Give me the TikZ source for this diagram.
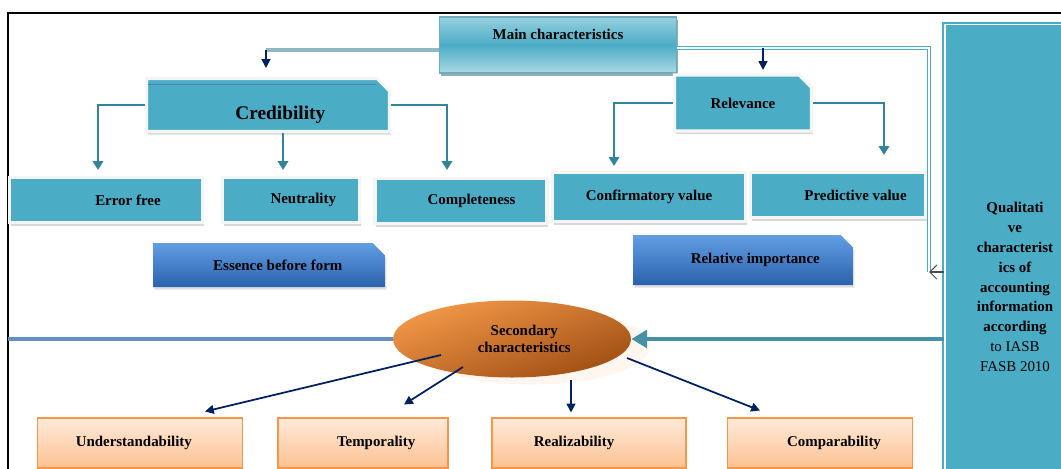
\documentclass[tikz,border=0pt]{standalone}
\usepackage{fontspec}
\setmainfont{Liberation Serif}
\usepackage{tikz}
\usetikzlibrary{shapes.geometric, shapes.misc, arrows.meta, positioning, shadows, calc}
\definecolor{tealbox}{RGB}{75,172,198}
\definecolor{tealdark}{RGB}{49,133,155}
\definecolor{teallight}{RGB}{150,208,222}
\definecolor{navyarrow}{RGB}{0,32,96}
\definecolor{bluebox}{RGB}{79,129,189}
\definecolor{bluetop}{RGB}{98,158,228}
\definecolor{bluebottom}{RGB}{42,98,172}
\definecolor{orangedark}{RGB}{160,78,20}
\definecolor{orangemid}{RGB}{242,152,72}
\definecolor{peach}{RGB}{252,194,146}
\definecolor{peachlight}{RGB}{255,234,218}
\definecolor{peachline}{RGB}{247,150,70}

\begin{document}
\begin{tikzpicture}[
    x=0.02cm, y=-0.02cm,
    every node/.style={font=\fontsize{8.5}{10}\selectfont\bfseries, inner sep=2pt},
    cardbox/.style={rectangle, fill=tealbox, draw=gray!8, line width=1.8pt,
                    minimum height=0.9cm,
                    drop shadow={shadow xshift=0.8pt, shadow yshift=-1.8pt, fill=gray!60}},
    tabbox/.style={chamfered rectangle, chamfered rectangle corners=north east,
                   chamfered rectangle xsep=3.5pt, chamfered rectangle ysep=3.5pt},
    mainbox/.style={rectangle, top color=teallight, bottom color=teallight!80!white,
                    middle color=tealbox, draw=tealdark!70, line width=0.6pt,
                    drop shadow={shadow xshift=1pt, shadow yshift=-1.5pt, fill=tealdark!70!black}},
    bluebtn/.style={tabbox, top color=bluetop, bottom color=bluebottom,
                    drop shadow={shadow xshift=0.8pt, shadow yshift=-1.5pt, fill=gray!50}},
    peachbox/.style={rectangle, top color=peachlight, bottom color=peach,
                     draw=peachline, line width=0.6pt, minimum height=1cm},
    tealarrow/.style={draw=tealdark, line width=0.9pt, -{Triangle[length=5pt, width=6pt]}},
    navyline/.style={draw=navyarrow, line width=1pt, -{Triangle[length=5pt, width=5pt]}}
]
    \useasboundingbox (0,0) rectangle (1061,468);
    \clip (0,0) rectangle (1061,468);

    % frame
    \draw[line width=0.8pt] (8,470) -- (8,13) -- (1065,13);

    % top level
    \node[mainbox, minimum width=4.74cm, minimum height=1.12cm,
          text height=10pt, text depth=16pt] (main) at (558,45) {Main characteristics};

    \node[cardbox, tabbox, minimum width=4.86cm, minimum height=1.06cm,
          font=\fontsize{11}{12}\selectfont\bfseries, text height=16pt, text depth=0pt]
          (cred) at (268,105) {\hspace*{14pt}Credibility};
    \node[cardbox, tabbox, minimum width=2.74cm, minimum height=1.12cm] (relev) at (743,103) {Relevance};

    % credibility children
    \node[cardbox, minimum width=3.86cm] (errfree) at (106,200) {\hspace*{25pt}Error free};
    \node[cardbox, minimum width=2.74cm] (neutral) at (291,200) {\hspace*{14pt}Neutrality};
    \node[cardbox, minimum width=3.44cm] (complete) at (461,201) {\hspace*{12pt}Completeness};

    % relevance children
    \node[cardbox, minimum width=3.5cm] (predict) at (838,195) {\hspace*{20pt}Predictive value};
    \node[cardbox, minimum width=3.86cm, minimum height=0.98cm] (confirm) at (649,197) {Confirmatory value};

    \node[bluebtn, minimum width=4.64cm, minimum height=0.88cm] (essence) at (269,265) {\hspace*{10pt}Essence before form};
    \node[bluebtn, minimum width=4.4cm, minimum height=1cm] (relimp) at (743,260) {\hspace*{14pt}Relative importance};

    % side box
    \node[rectangle, fill=tealbox, draw=tealbox, double=white, double distance=1pt,
          line width=1.2pt, minimum width=2.8cm, minimum height=10.5cm, align=center,
          font=\fontsize{8.5}{11.3}\selectfont\bfseries] (qual) at (1015,287)
          {Qualitati\\ve\\characterist\\ics of\\accounting\\information\\according\\
           {\mdseries to IASB}\\{\mdseries FASB 2010}};

    % secondary
    \node[ellipse, minimum width=4.76cm, minimum height=1.54cm, align=center,
          top color=orangemid, bottom color=orangedark, shading angle=20,
          drop shadow={shadow xshift=11pt, shadow yshift=-4pt, fill=peachlight!80!white}]
          (sec) at (512,339) {\hspace*{14pt}Secondary\\\hspace*{14pt}characteristics};

    \node[peachbox, minimum width=4.1cm] (under) at (140,443) {Understandability\hspace*{7pt}};
    \node[peachbox, minimum width=3.4cm] (tempor) at (363,443) {\hspace*{15pt}Temporality};
    \node[peachbox, minimum width=3.88cm] (realiz) at (589,443) {Realizability\hspace*{17pt}};
    \node[peachbox, minimum width=3.7cm] (compar) at (820,443) {\hspace*{16pt}Comparability};

    \draw[bluebox, line width=0.6pt] (cred.north west) ++(3,8) -- ++(228,0);

    % main connectors
    \draw[teallight!70!gray, line width=2pt] ([yshift=-0.1cm]main.west) -- ++(-173,0) coordinate (leftdrop);
    \draw[navyline] (leftdrop) -- ++(0,18);
    \coordinate (turn) at (929,272);
    \coordinate (rightdrop) at (763,48);
    \draw[draw=tealbox, double=white, double distance=0.8pt, line width=0.7pt]
        ([yshift=-0.06cm]main.east) -| (turn);
    \draw[navyline] (rightdrop) -- ++(0,22);
    \draw[black!70, line width=0.6pt, -{Straight Barb[length=4pt, width=8pt]}] (qual.west |- turn) -- (turn);

    % credibility connectors
    \draw[tealarrow] (cred.west) -| ($(errfree.north)+(-8,-6)$);
    \draw[tealarrow] ($(cred.south)+(15,0)$) -- ($(neutral.north)+(-8,-6)$);
    \draw[tealarrow] (cred.east) -| ($(complete.north)+(-14,-7)$);

    % relevance connectors
    \draw[tealarrow] (relev.west) -| ($(confirm.north)+(-35,-5)$);
    \draw[tealarrow] (relev.east) -| ($(predict.north)+(46,-16)$);

    % secondary connectors
    \draw[bluebox!90, line width=2.6pt] (sec.west -| 8,0) -- (sec.west);
    \draw[draw=tealdark!90, line width=2.8pt, -{Triangle[length=9pt, width=10pt]}]
        (qual.west |- sec.east) -- (sec.east);
    \draw[navyline] ($(sec.center)+(-71,16)$) -- ($(under.north)+(65,-6)$);
    \draw[navyline] ($(sec.center)+(-49,28)$) -- ($(tempor.north)+(41,-13)$);
    \draw[navyline] ($(sec.center)+(59,41)$) -- ($(realiz.north)+(-18,-5)$);
    \draw[navyline] ($(sec.center)+(115,19)$) -- ($(compar.north)+(-60,-7)$);
\end{tikzpicture}
\end{document}
